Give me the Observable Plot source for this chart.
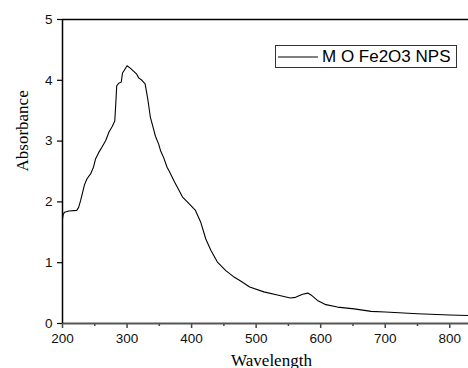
<!DOCTYPE html>
<html><head><meta charset="utf-8">
<script src="https://cdn.jsdelivr.net/npm/d3@7"></script>
<script src="https://cdn.jsdelivr.net/npm/@observablehq/plot@0.6"></script>
<style>
body{margin:0;background:#fff;}
#wrap{position:relative;width:468px;height:368px;overflow:hidden;}
#wrap svg{display:block;}
.legend{position:absolute;left:275px;top:45px;width:180px;height:21px;border:1px solid #333;background:#fff;
 font-family:"Liberation Sans",Arial,sans-serif;font-size:17px;line-height:21px;white-space:nowrap;box-sizing:content-box;}
.legend svg{position:absolute;left:2px;top:10px;}
.legend span{position:absolute;left:46px;top:0;}
</style>
</head><body>
<div id="wrap"></div>
<script>
const wavelength = [200,201,203,210,222,225,228,231,234,238,244,248,251,256,261,267,272,277,281,283,284,287,291,293,296,300,305,310,315,318,323,328,332,336,341,344,349,352,357,362,366,373,380,386,396,406,414,422,430,440,453,465,476,490,512,533,553,561,572,580,585,595,608,626,652,678,700,750,800,830];
const absorbance = [1.72,1.79,1.83,1.85,1.86,1.91,2.02,2.15,2.28,2.38,2.47,2.57,2.70,2.81,2.90,3.01,3.15,3.24,3.33,3.70,3.91,3.95,3.97,4.12,4.17,4.24,4.20,4.15,4.10,4.04,4.00,3.94,3.70,3.40,3.20,3.08,2.95,2.84,2.72,2.57,2.49,2.34,2.20,2.08,1.97,1.86,1.67,1.39,1.20,1.01,0.87,0.77,0.70,0.60,0.52,0.47,0.42,0.43,0.48,0.50,0.47,0.38,0.31,0.27,0.24,0.20,0.19,0.16,0.14,0.13];
const xMajor = [200,300,400,500,600,700,800];
const xMinor = [250,350,450,550,650,750];
const yTicks = [0,1,2,3,4,5];
const seriesName = "M O Fe2O3 NPS";
const xLabel = "Wavelength";
const yLabel = "Absorbance";

const data = wavelength.map((w,i)=>({w, a: absorbance[i]}));
const sans = '"Liberation Sans", Arial, sans-serif';
const serif = '"Liberation Serif", "Times New Roman", serif';

const chart = Plot.plot({
  width: 468, height: 368,
  marginLeft: 62, marginRight: 0, marginTop: 19, marginBottom: 45,
  x: {type: "linear", domain: [200, 829]},
  y: {type: "linear", domain: [0, 5]},
  style: {fontFamily: sans, background: "#fff", overflow: "visible"},
  marks: [
    Plot.axisY({ticks: yTicks, tickFormat: d3.format("d"), tickSize: 5, tickPadding: 5, fontSize: 13.5, label: null, stroke: "#000", strokeWidth: 1.2, color: "#111"}),
    Plot.axisX({ticks: xMajor, tickFormat: d3.format("d"), tickSize: 5, tickPadding: 5, fontSize: 13.5, label: null, stroke: "#444", strokeWidth: 1.5, color: "#111"}),
    Plot.axisX({ticks: xMinor, tickSize: 3, tickFormat: () => "", label: null, stroke: "#444", strokeWidth: 1.5}),
    Plot.ruleY([0], {stroke: "#555", strokeWidth: 2}),
    Plot.ruleY([5], {stroke: "#000", strokeWidth: 1.5}),
    Plot.ruleX([200], {stroke: "#000", strokeWidth: 1.5}),
    Plot.line(data, {x: "w", y: "a", stroke: "#000", strokeWidth: 1.1}),
    Plot.text([xLabel], {text: d=>d, frameAnchor: "bottom", dy: 42, dx: 6, fontFamily: serif, fontSize: 17, fill: "#000"}),
    Plot.text([yLabel], {text: d=>d, frameAnchor: "left", rotate: -90, dx: -40, fontFamily: serif, fontSize: 17, fill: "#000"})
  ]
});
const wrap = document.getElementById("wrap");
wrap.appendChild(chart);
const leg = document.createElement("div");
leg.className = "legend";
leg.innerHTML = '<svg width="40" height="2"><line x1="0" y1="1" x2="40" y2="1" stroke="#000" stroke-width="1"/></svg><span></span>';
leg.querySelector("span").textContent = seriesName;
wrap.appendChild(leg);
</script>
</body></html>
